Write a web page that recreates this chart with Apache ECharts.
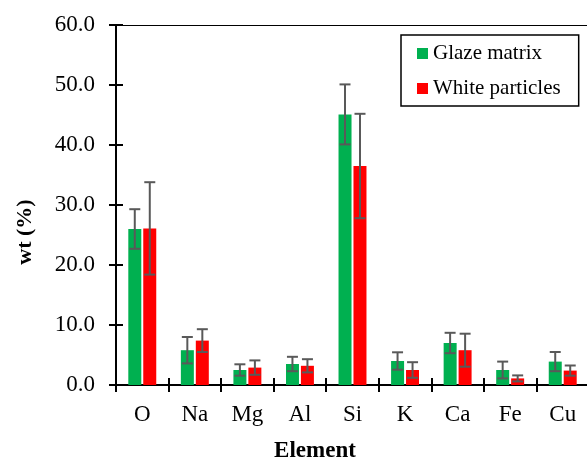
<!DOCTYPE html>
<html>
<head>
<meta charset="utf-8">
<script src="https://cdn.jsdelivr.net/npm/echarts@6/dist/echarts.min.js"></script>
<style>html,body{margin:0;padding:0;background:#fff}#c{width:587px;height:461px}</style>
</head>
<body>
<div id="c"></div>
<script>
const categories = ['O', 'Na', 'Mg', 'Al', 'Si', 'K', 'Ca', 'Fe', 'Cu'];
const glazeMatrix = [26.0, 5.8, 2.5, 3.5, 45.1, 4.0, 7.0, 2.5, 3.9];
const glazeMatrixErr = [3.3, 2.2, 0.95, 1.2, 5.0, 1.45, 1.7, 1.4, 1.6];
const whiteParticles = [26.1, 7.4, 2.9, 3.2, 36.5, 2.5, 5.8, 1.1, 2.4];
const whiteParticlesErr = [7.7, 1.9, 1.2, 1.1, 8.7, 1.3, 2.75, 0.5, 0.85];
const yTicks = { min: 0, max: 60, interval: 10 };

const FONT = '"Liberation Serif", "Times New Roman", serif';
const chart = echarts.init(document.getElementById('c'), null, { renderer: 'canvas' });

function errData(vals, errs) {
  return vals.map((v, i) => [i, v, errs[i]]);
}
function errRender(offset) {
  return function (params, api) {
    const x = api.value(0), y = api.value(1), e = api.value(2);
    const hi = api.coord([x, y + e]);
    const lo = api.coord([x, y - e]);
    const cx = hi[0] + offset;
    const cap = 5.5;
    const style = { stroke: '#595959', lineWidth: 2 };
    return {
      type: 'group',
      children: [
        { type: 'line', shape: { x1: cx, y1: hi[1], x2: cx, y2: lo[1] }, style },
        { type: 'line', shape: { x1: cx - cap, y1: hi[1], x2: cx + cap, y2: hi[1] }, style },
        { type: 'line', shape: { x1: cx - cap, y1: lo[1], x2: cx + cap, y2: lo[1] }, style }
      ]
    };
  };
}

const axisLineStyle = { color: '#000', width: 2 };
chart.setOption({
  animation: false,
  textStyle: { fontFamily: FONT },
  grid: { left: 116, right: -2, top: 25, bottom: 76, outerBoundsMode: 'none', containLabel: false },
  legend: {
    data: ['Glaze matrix', 'White particles'],
    orient: 'vertical',
    left: 401, top: 35,
    width: 179,
    padding: [8, 18, 7, 16],
    borderColor: '#000', borderWidth: 1.5,
    icon: 'rect', itemWidth: 11, itemHeight: 11,
    itemGap: 14,
    textStyle: { fontFamily: FONT, fontSize: 21, color: '#000' }
  },
  xAxis: [
    {
      type: 'category', data: categories, position: 'bottom',
      axisLine: { lineStyle: axisLineStyle },
      axisTick: { show: true, length: 7, lineStyle: { color: '#000', width: 2 } },
      axisLabel: { fontFamily: FONT, fontSize: 23, color: '#000', margin: 18 },
      splitLine: { show: false }
    },
    {
      type: 'category', data: categories, position: 'bottom',
      axisLine: { show: false },
      axisTick: { show: true, inside: true, length: 7, lineStyle: { color: '#000', width: 2 } },
      axisLabel: { show: false },
      splitLine: { show: false }
    },
    {
      type: 'category', data: categories, position: 'top',
      axisLine: { show: true, lineStyle: { color: '#000', width: 1 } },
      axisTick: { show: false },
      axisLabel: { show: false },
      splitLine: { show: false }
    }
  ],
  yAxis: [
    {
      type: 'value', min: yTicks.min, max: yTicks.max, interval: yTicks.interval, position: 'left',
      axisLine: { show: true, lineStyle: axisLineStyle },
      axisTick: { show: true, length: 7, lineStyle: { color: '#000', width: 2 } },
      axisLabel: { fontFamily: FONT, fontSize: 23, color: '#000', margin: 21, formatter: v => v.toFixed(1) },
      splitLine: { show: false }
    },
    {
      type: 'value', min: yTicks.min, max: yTicks.max, interval: yTicks.interval, position: 'left',
      axisLine: { show: false },
      axisTick: { show: true, inside: true, length: 7, lineStyle: { color: '#000', width: 2 } },
      axisLabel: { show: false },
      splitLine: { show: false }
    }
  ],
  graphic: [
    { type: 'text', x: 315, y: 451,
      style: { text: 'Element', font: 'bold 23px ' + FONT, fill: '#000', align: 'center', verticalAlign: 'middle' } },
    { type: 'text', x: 25, y: 232, rotation: Math.PI / 2,
      style: { text: 'wt (%)', font: 'bold 22px ' + FONT, fill: '#000', align: 'center', verticalAlign: 'middle' } }
  ],
  series: [
    { name: 'Glaze matrix', type: 'bar', data: glazeMatrix, barWidth: 13, barGap: '15%',
      itemStyle: { color: '#00B050' } },
    { name: 'White particles', type: 'bar', data: whiteParticles, barWidth: 13, barGap: '15%',
      itemStyle: { color: '#FF0000' } },
    { type: 'custom', data: errData(glazeMatrix, glazeMatrixErr), renderItem: errRender(-7.5),
      encode: { x: 0, y: 1 }, z: 5, silent: true },
    { type: 'custom', data: errData(whiteParticles, whiteParticlesErr), renderItem: errRender(7.5),
      encode: { x: 0, y: 1 }, z: 5, silent: true }
  ]
});
</script>
</body>
</html>
